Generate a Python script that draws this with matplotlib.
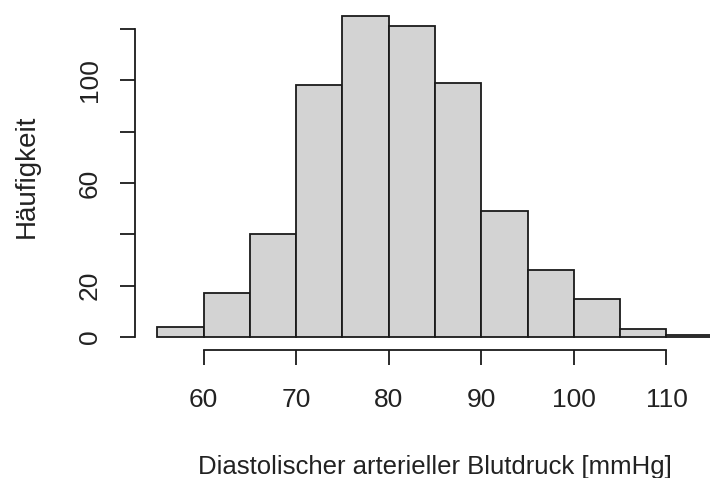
import matplotlib.pyplot as plt

# ---- data ----
bin_edges = [55, 60, 65, 70, 75, 80, 85, 90, 95, 100, 105, 110, 115]
counts = [4, 17, 40, 98, 125, 121, 99, 49, 26, 15, 3, 1]

x_ticks = [60, 70, 80, 90, 100, 110]
y_ticks = [0, 20, 40, 60, 80, 100, 120]
y_ticklabels = ["0", "20", "", "60", "", "100", ""]

plt.rcParams["font.family"] = ["Liberation Sans", "DejaVu Sans"]

W, H = 710, 478
fig = plt.figure(figsize=(W / 100, H / 100), dpi=100)

# plot region in pixels (R style: 4% padding around data range)
left_px, right_px, top_px, bottom_px = 135, 735, 3, 350
ax = fig.add_axes([left_px / W, 1 - bottom_px / H,
                   (right_px - left_px) / W, (bottom_px - top_px) / H])

widths = [b - a for a, b in zip(bin_edges[:-1], bin_edges[1:])]
ax.bar(bin_edges[:-1], counts, width=widths, align="edge",
       color="#d3d3d3", edgecolor="#1a1a1a", linewidth=1.3)

xr = bin_edges[-1] - bin_edges[0]
ax.set_xlim(bin_edges[0] - 0.04 * xr, bin_edges[-1] + 0.04 * xr)
yr = max(counts)
ax.set_ylim(-0.04 * yr, yr * 1.04)

for s in ["top", "right"]:
    ax.spines[s].set_visible(False)
ax.spines["left"].set_bounds(0, 120)
ax.spines["bottom"].set_bounds(60, 110)
for s in ["left", "bottom"]:
    ax.spines[s].set_color("#1a1a1a")
    ax.spines[s].set_linewidth(1.3)

ax.set_xticks(x_ticks)
ax.set_yticks(y_ticks)
ax.set_yticklabels(y_ticklabels, rotation=90, va="center")
ax.tick_params(axis="both", length=11, width=1.3, color="#1a1a1a",
               labelsize=19, labelcolor="#222222")
ax.tick_params(axis="x", pad=16.5)
ax.tick_params(axis="y", pad=13)

ax.set_xlabel("Diastolischer arterieller Blutdruck [mmHg]", fontsize=18.5,
              color="#222222", labelpad=31)
ax.set_ylabel("Häufigkeit", fontsize=20, color="#222222", labelpad=27)

fig.savefig("out.png", dpi=100)
